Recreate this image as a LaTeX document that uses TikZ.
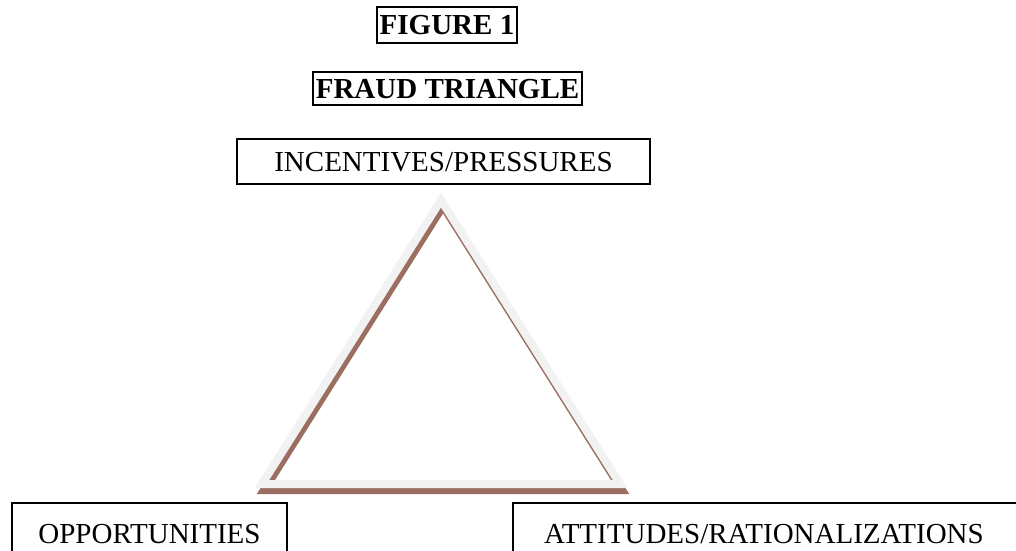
\documentclass[tikz,border=0pt]{standalone}
\usepackage{fontspec}
\setmainfont{Liberation Serif}
\usetikzlibrary{positioning}

\definecolor{shadowbrown}{RGB}{156,110,98}
\definecolor{edgegray}{RGB}{242,242,242}

\begin{document}
\begin{tikzpicture}[x=1pt,y=-1pt,
    labelbox/.style={draw=black,line width=1.8pt,inner sep=0pt,
      font=\fontsize{29}{34}\selectfont,text height=19.5pt,text depth=0pt},
    headbox/.style={labelbox,font=\fontsize{29}{34}\selectfont\bfseries}]
    \useasboundingbox (0,0) rectangle (1016,550);
    \clip (0,0) rectangle (1016,550);

    \node[headbox,minimum width=140pt,minimum height=36pt] (fig) at (447,25) {FIGURE 1};
    \node[headbox,minimum width=269pt,minimum height=33pt] (title) at (447.5,88.5) {FRAUD TRIANGLE};

    \node[labelbox,minimum width=413pt,minimum height=45pt] (incent) at (443.5,161.5) {INCENTIVES/PRESSURES};
    \node[labelbox,minimum width=275pt,minimum height=62pt] (opport) at (149.5,534) {OPPORTUNITIES};
    \node[labelbox,anchor=north west,minimum height=62pt,outer sep=0pt,
      text width=490pt,align=left,inner xsep=31pt] (attit) at (513,503) {ATTITUDES/RATIONALIZATIONS};

    % triangle with its shadow
    \coordinate (apex) at (441,200);
    \coordinate (lbase) at (262,484);
    \coordinate (rbase) at (620,484);
    \draw[shadowbrown,line width=8pt,miter limit=10]
      ([shift={(2,6)}]apex) -- ([shift={(2,6)}]lbase) -- ([shift={(2,6)}]rbase) -- cycle;
    \draw[edgegray,line width=8pt,miter limit=10]
      (apex) -- (lbase) -- (rbase) -- cycle;
\end{tikzpicture}
\end{document}
